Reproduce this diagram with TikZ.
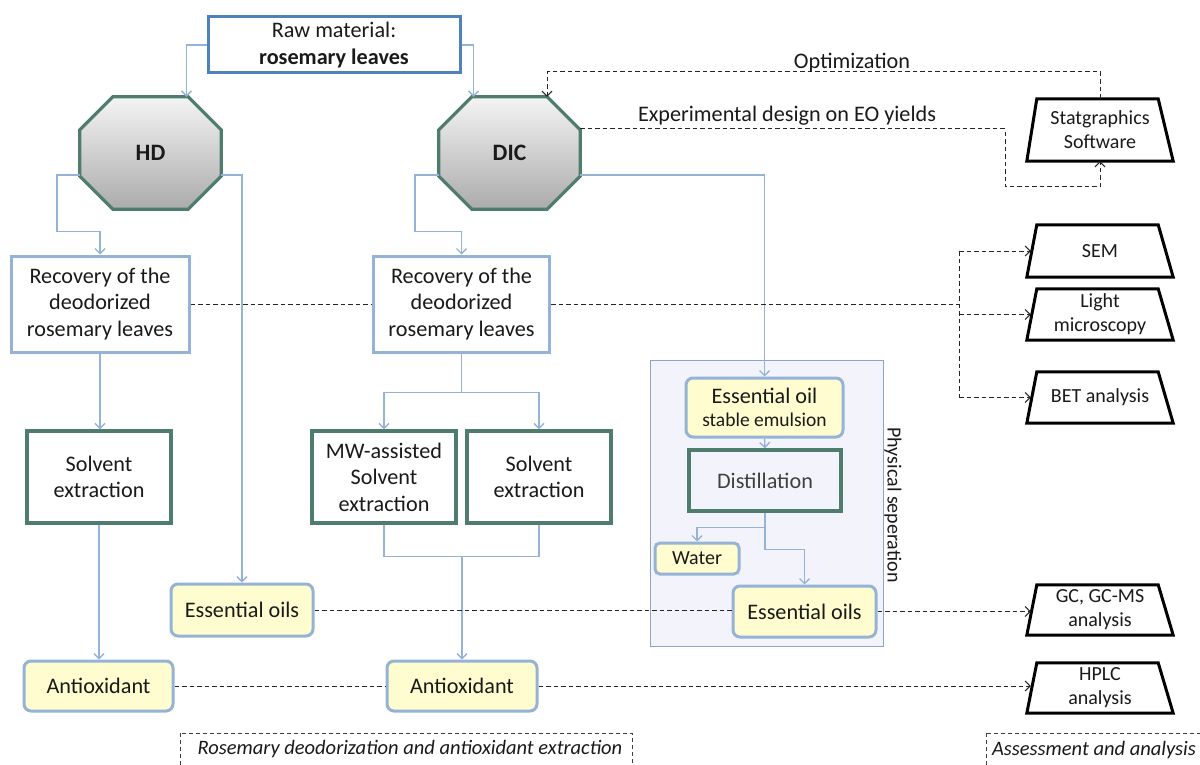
\documentclass[tikz,border=0pt]{standalone}
\usepackage{fontspec}
\setmainfont{Carlito}
\usetikzlibrary{arrows.meta,calc}
\definecolor{lblue}{HTML}{95B3D7}
\definecolor{mblue}{HTML}{4F81BD}
\definecolor{tealb}{HTML}{4F7D6D}
\definecolor{lyel}{HTML}{FFFCCF}
\definecolor{psfill}{HTML}{F3F4FB}
\definecolor{psdraw}{HTML}{8EA3C9}
\definecolor{octtop}{HTML}{F4F4F4}
\definecolor{octbot}{HTML}{ABABAB}
\definecolor{txt}{HTML}{1A1A1A}
\newcommand{\fmain}{\fontsize{22.2}{26.5}\selectfont}
\newcommand{\fsmall}{\fontsize{19.5}{24}\selectfont}
\newcommand{\ftrap}{\fontsize{20}{24}\selectfont}
\newcommand{\fital}{\fontsize{20.5}{24}\selectfont\itshape}
\newcommand{\mytrap}[5]{%
  \node[minimum width=146pt,minimum height=#4pt,font=\ftrap] (#1) at (#2,#3) {#5};
  \draw[trapline] ([xshift=10pt]#1.north west) -- ([xshift=-15pt]#1.north east) -- (#1.south east) -- (#1.south west) -- cycle;}
\newcommand{\myocta}[4]{%
  \node[minimum width=141pt,minimum height=112pt] (#1) at (#2,#3) {};
  \draw[octa] ([xshift=33pt]#1.north west) -- ([xshift=-33pt]#1.north east) -- ([yshift=-33pt]#1.north east) -- ([yshift=33pt]#1.south east) -- ([xshift=-33pt]#1.south east) -- ([xshift=33pt]#1.south west) -- ([yshift=33pt]#1.south west) -- ([yshift=-33pt]#1.north west) -- cycle;
  \node[font=\fontsize{23.5}{26}\selectfont\bfseries] (#1t) at (#1) {#4};}
\begin{document}
\begin{tikzpicture}[x=1pt,y=-1pt,
  every node/.style={align=center,inner sep=0pt,font=\fmain,text=txt},
  rawbox/.style={draw=mblue,line width=3pt,fill=white},
  bluebox/.style={draw=lblue,line width=3pt,fill=white},
  tealbox/.style={draw=tealb,line width=3.2pt,fill=white},
  yelbox/.style={draw=lblue,line width=3pt,fill=lyel,rounded corners=7pt},
  conn/.style={draw=lblue,line width=1.4pt,-{Straight Barb[length=5pt,width=10pt]}},
  cline/.style={draw=lblue,line width=1.4pt},
  dline/.style={draw=black!85,line width=1pt,dash pattern=on 4.5pt off 3pt},
  darr/.style={dline,-{Straight Barb[length=5pt,width=10pt]}},
  frame/.style={draw=black!75,line width=0.9pt,dash pattern=on 4pt off 3pt},
  trapline/.style={draw=black,line width=3pt,line join=miter},
  octa/.style={draw=tealb,line width=3.2pt,top color=octtop,bottom color=octbot},
]
\useasboundingbox (0,0) rectangle (1200,765);
\fill[white] (0,0) rectangle (1200,765);

% physical separation frame
\node[draw=psdraw,line width=0.8pt,fill=psfill,minimum width=233pt,minimum height=286pt] (ps) at (766.5,503) {};
\node[rotate=-90,font=\ftrap] (pslab) at (893,505) {Physical seperation};

% main nodes
\node[rawbox,minimum width=252pt,minimum height=56pt] (raw) at (334,45) {Raw material:\\\textbf{rosemary leaves}};
\myocta{hd}{150.5}{153}{HD}
\myocta{dic}{509.5}{153}{DIC}
\node[bluebox,minimum width=178pt,minimum height=96pt] (recL) at (100,304) {Recovery of the\\deodorized\\rosemary leaves};
\node[bluebox,minimum width=176pt,minimum height=96pt] (recR) at (461.5,304) {Recovery of the\\deodorized\\rosemary leaves};
\node[tealbox,minimum width=144pt,minimum height=92pt] (solL) at (99,477) {Solvent\\extraction};
\node[tealbox,minimum width=144pt,minimum height=92pt] (mw) at (384,477) {MW-assisted\\Solvent\\extraction};
\node[tealbox,minimum width=144pt,minimum height=92pt] (solR) at (539,477) {Solvent\\extraction};
\node[yelbox,minimum width=142pt,minimum height=52pt] (eoL) at (242,610) {Essential oils};
\node[yelbox,minimum width=149pt,minimum height=50pt] (antL) at (98.5,686) {Antioxidant};
\node[yelbox,minimum width=150pt,minimum height=50pt] (antR) at (462,686) {Antioxidant};
\node[yelbox,minimum width=157pt,minimum height=59pt] (emul) at (764.5,407.5) {Essential oil\\[-3pt]{\fsmall stable emulsion}};
\node[tealbox,fill=psfill,minimum width=152pt,minimum height=61pt,text=black!75] (dist) at (765,480.5) {Distillation};
\node[yelbox,minimum width=84pt,minimum height=31pt,rounded corners=5pt,font=\fontsize{20}{22}\selectfont] (water) at (697,558.5) {Water};
\node[yelbox,minimum width=143pt,minimum height=51pt] (eoR) at (804.5,611.5) {Essential oils};

% assessment trapezoids
\mytrap{stat}{1100}{130}{62}{Statgraphics\\Software}
\mytrap{sem}{1100}{251}{52}{SEM}
\mytrap{light}{1100}{314.5}{51}{Light\\microscopy}
\mytrap{bet}{1100}{397.5}{51}{BET analysis}
\mytrap{gc}{1100}{610}{50}{GC, GC-MS\\analysis}
\mytrap{hplc}{1100}{688}{50}{HPLC\\analysis}

\coordinate (dv) at (959,304);
\coordinate (expc) at (1005,187);

% process connectors
\draw[conn] (raw.west) -| ([xshift=36pt]hd.north);
\draw[conn] (raw.east) -| ([xshift=-36pt]dic.north);
\draw[conn] ([yshift=-22pt]hd.west) -- ++(-23,0) |- ($(recL.north)+(0,-23)$) -- (recL.north);
\draw[conn] ([yshift=-22pt]hd.east) -| (eoL.north);
\draw[conn] ([yshift=-22pt]dic.west) -- ++(-24,0) |- ($(recR.north)+(0,-23)$) -- (recR.north);
\draw[conn] ([yshift=-22pt]dic.east) -| (emul.north);
\draw[conn] (recL.south) -- (recL.south |- solL.north);
\draw[cline] (recR.south) -- ++(0,39) coordinate (br);
\draw[conn] (br) -| (mw.north);
\draw[conn] (br) -| (solR.north);
\draw[cline] (mw.south) -- ++(0,32) coordinate (jn) -| (solR.south);
\draw[conn] (jn -| antR.north) -- (antR.north);
\draw[conn] (solL.south) -- (solL.south |- antL.north);
\draw[conn] (emul.south) -- (dist.north);
\draw[cline] (dist.south) -- ++(0,15) coordinate (dj);
\draw[conn] (dj) -| (water.north);
\draw[conn] (dj) -- ++(0,22) -| (eoR.north);

% dashed analysis connectors
\draw[dline] (recL.east) -- (recR.west);
\draw[dline] (recR.east) -- (dv);
\draw[dline] (dv |- sem.west) -- (dv |- bet.west);
\draw[darr] (dv |- sem.west) -- ($(sem.west)+(4,0)$);
\draw[darr] (dv |- light.west) -- ($(light.west)+(4,0)$);
\draw[darr] (dv |- bet.west) -- ($(bet.west)+(4,0)$);
\draw[dline] (eoL.east) -- (eoL.east -| eoR.west);
\draw[darr] (eoR.east) -- ($(eoR.east -| gc.west)+(4,0)$);
\draw[dline] (antL.east) -- (antR.west);
\draw[darr] (antR.east) -- ($(antR.east -| hplc.west)+(4,0)$);
\draw[darr] (stat.north) |- ($(dic.north)+(37.5,-25)$) -- ($(dic.north)+(37.5,0)$);
\node (opt) at (852,63) {Optimization};
\draw[darr] ([yshift=24pt]dic.east) -| (expc) -| (stat.south);
\node (exp) at (787,116) {Experimental design on EO yields};

% group frames
\draw[frame] (180,733) rectangle (632,795);
\node[font=\fital] (lab1) at (410,749) {Rosemary deodorization and antioxidant extraction};
\draw[frame] (986,733) rectangle (1210,795);
\node[font=\fital] (lab2) at (1094,750) {Assessment and analysis};
\end{tikzpicture}
\end{document}
